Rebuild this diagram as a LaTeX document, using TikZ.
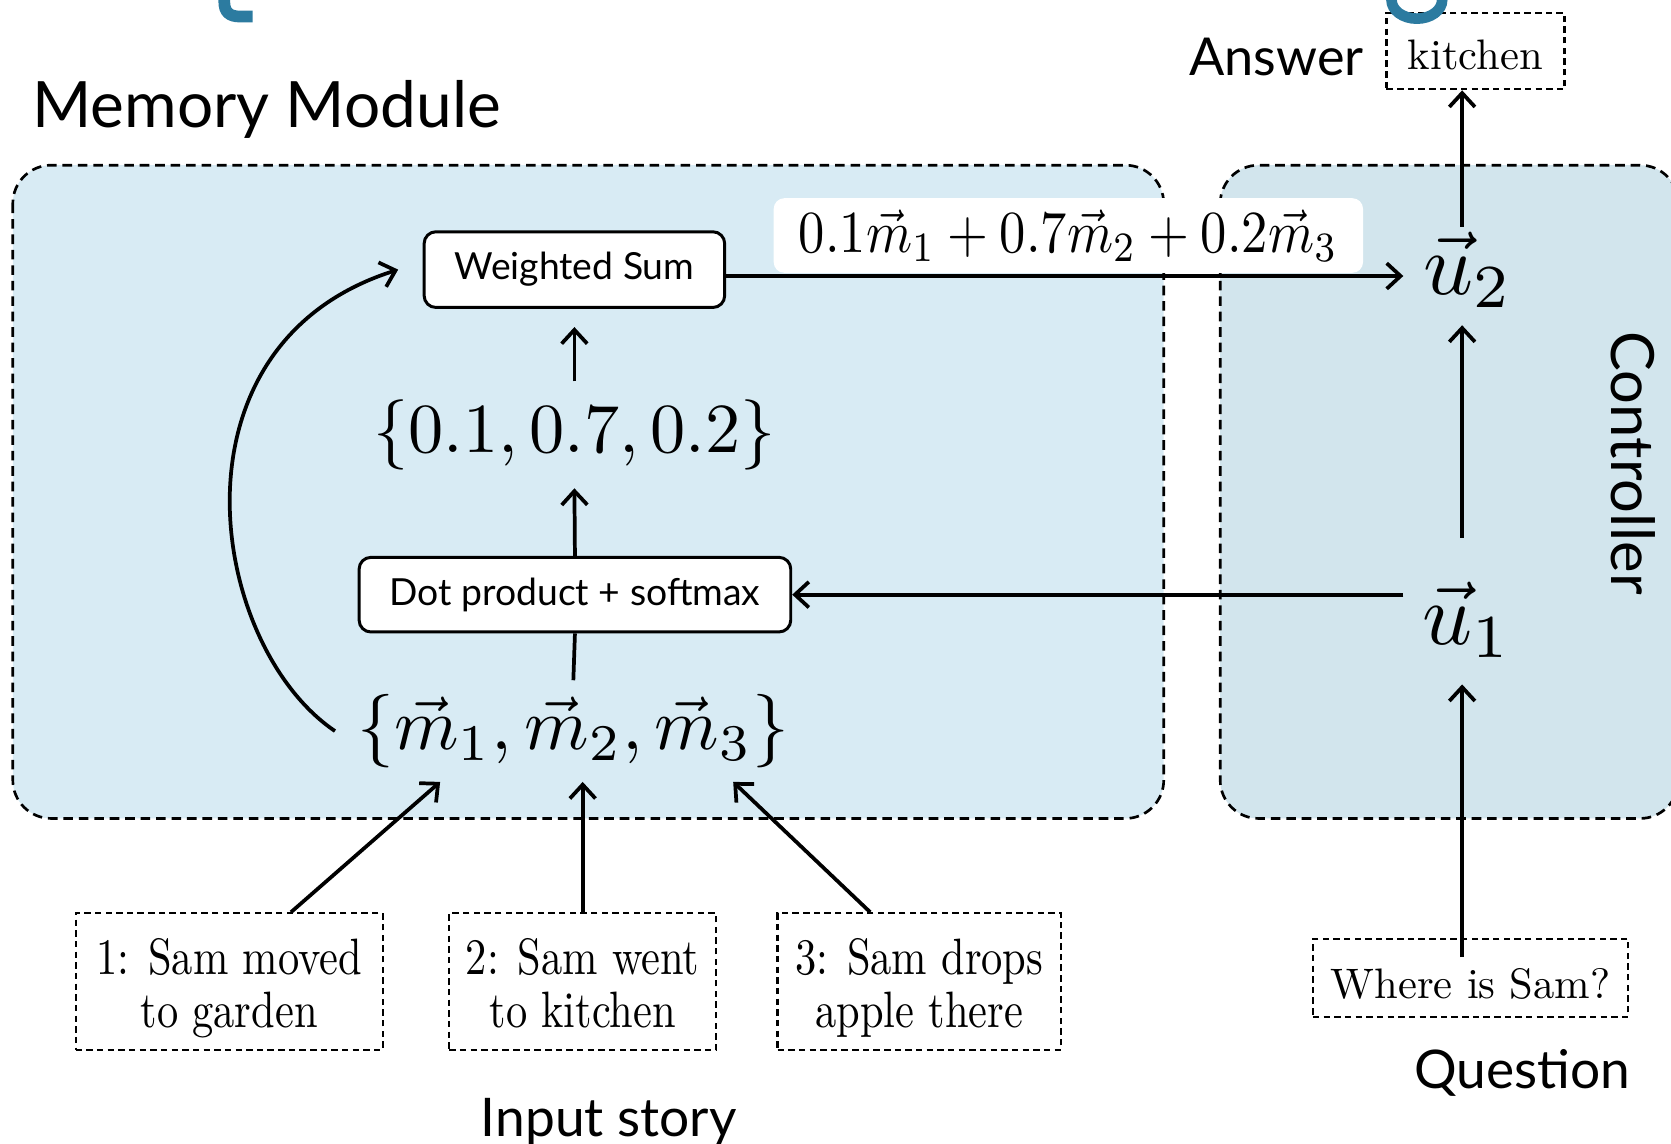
\RequirePackage{fix-cm}
\documentclass[tikz,border=0pt]{standalone}
\usepackage{fontspec}
\usepackage{graphicx}
\newfontfamily\sansf{Lato}
\newfontfamily\storyf{lmroman10-regular.otf}[FakeStretch=0.83]
\newfontfamily\serift{lmroman10-regular.otf}
\usetikzlibrary{arrows.meta,calc}
\definecolor{memfill}{HTML}{D8EBF4}
\definecolor{ctrlfill}{HTML}{D2E5ED}
\definecolor{fragblue}{HTML}{2C7BA0}
\begin{document}
\begin{tikzpicture}[x=1pt,y=-1pt,
  arr/.style={line width=3.5pt,-{Straight Barb[length=13pt,width=24pt]}},
  plainline/.style={line width=3.5pt},
  module/.style={draw=black,line width=2.5pt,dash pattern=on 9pt off 5.5pt,rounded corners=36pt},
  opbox/.style={draw=black,fill=white,line width=2.8pt,rounded corners=11pt,inner sep=0pt,font=\sansf\fontsize{35}{35}\selectfont},
  dbox/.style={draw=black,line width=2pt,dash pattern=on 6pt off 4pt,inner sep=0pt},
  storybox/.style={dbox,align=center,font=\storyf\fontsize{48}{50}\selectfont},
  mathnode/.style={inner sep=0pt},
  titletext/.style={inner sep=0pt,anchor=base west},
]
\useasboundingbox (0,0) rectangle (1568,1073);
\clip (0,0) rectangle (1568,1073);

% module backgrounds
\path[module,fill=memfill] (12,155) rectangle (1092,768);
\path[module,fill=ctrlfill] (1145,155) rectangle (1575,768);

% titles
\node[titletext,font=\sansf\fontsize{60}{60}\selectfont] (mmtitle) at (30,120) {Memory Module};
\node[rotate=-90,anchor=base west,inner sep=0pt,font=\sansf\fontsize{56}{56}\selectfont] (ctrl) at (1512,311) {Controller};
\node[titletext,font=\sansf\fontsize{49}{49}\selectfont] (anslbl) at (1116,71) {Answer};
\node[titletext,font=\sansf\fontsize{50}{50}\selectfont] (qlbl) at (1327,1021) {Question};
\node[titletext,font=\sansf\fontsize{50}{50}\selectfont] (instory) at (451,1066) {Input story};

% memory module content
\node[opbox,minimum width=282pt,minimum height=71pt] (ws) at (539,253) {Weighted Sum};
\node[mathnode,inner ysep=17pt] (probs) at (539,408) {\scalebox{6.6}{$\{0.1, 0.7, 0.2\}$}};
\node[opbox,minimum width=405pt,minimum height=70pt] (dot) at (539.5,558) {Dot product + softmax};
\node[inner xsep=21pt,inner ysep=13pt] (mset) at (538,686) {\scalebox{6.9}{$\{\vec m_1, \vec m_2, \vec m_3\}$}};

% controller content
\node[inner sep=0pt,minimum width=110pt,minimum height=137pt,text height=63pt,text depth=0pt] (u1) at (1372,573.5) {\hspace{10pt}\scalebox{8.2}{$\vec u_1$}};
\node[inner sep=0pt,minimum width=110pt,minimum height=92pt,text height=34pt,text depth=0pt] (u2) at (1372,259) {\hspace{12pt}\scalebox{8.2}{$\vec u_2$}};

% weighted sum label
\node[fill=white,rounded corners=10pt,minimum width=553pt,minimum height=70pt,inner sep=0pt] (sumlbl) at (1002.5,221) {\scalebox{4.93}[5.6]{$0.1\vec m_1+0.7\vec m_2+0.2\vec m_3$}};

% answer and question
\node[dbox,minimum width=167pt,minimum height=71.5pt,text height=34pt,text depth=0pt,font=\serift\fontsize{40}{40}\selectfont] (ans) at (1384.5,48) {kitchen};
\node[dbox,minimum width=296pt,minimum height=73pt,text height=39pt,text depth=0pt,font=\serift\fontsize{40}{40}\selectfont] (q) at (1380,917.5) {Where is Sam?};

% story boxes
\node[storybox,minimum width=288pt,minimum height=128pt] (s1) at (215,921) {\rule{0pt}{47pt}1: Sam moved\\\rule[-10pt]{0pt}{10pt}to garden};
\node[storybox,minimum width=250.5pt,minimum height=128pt] (s2) at (546.75,921) {\rule{0pt}{47pt}2: Sam went\\\rule[-10pt]{0pt}{10pt}to kitchen};
\node[storybox,minimum width=266pt,minimum height=128pt] (s3) at (862.6,921) {\rule{0pt}{47pt}3: Sam drops\\\rule[-10pt]{0pt}{10pt}apple there};

% connectors
\draw[arr] (probs.north) -- ([yshift=-17pt]ws.south);
\draw[arr] (dot.north) -- (probs.south);
\draw[plainline] (mset.north) -- (dot.south);
\draw[arr] ($(s1.north)+(58,0)$) -- ($(mset.south)+(-125,0)$);
\draw[arr] (s2.north) -- (s2.north |- mset.south);
\draw[arr] ($(s3.north)+(-46,0)$) -- ($(mset.south)+(150,0)$);
\draw[arr] (mset.west) .. controls (195,605) and (152,323) .. ($(ws.west)+(-23,0)$);
\draw[arr] (ws.east |- u2.west) -- (u2.west);
\draw[arr] (u1.west |- dot.east) -- (dot.east);
\draw[arr] (u1.north) -- (u2.south);
\draw[arr] (u2.north) -- (u2.north |- ans.south);
\draw[arr] ([yshift=-18pt]u1.south |- q.north) -- (u1.south);

% cut-off blue fragments at the top edge
\draw[fragblue,line width=11pt] (210.5,-5) -- (210.5,2) .. controls (210.5,11) and (215,15.5) .. (225,15.5) -- (237,15.5);
\draw[fragblue,line width=10pt] (1329.5,0) ellipse [x radius=23.75pt, y radius=17.5pt];
\end{tikzpicture}
\end{document}
